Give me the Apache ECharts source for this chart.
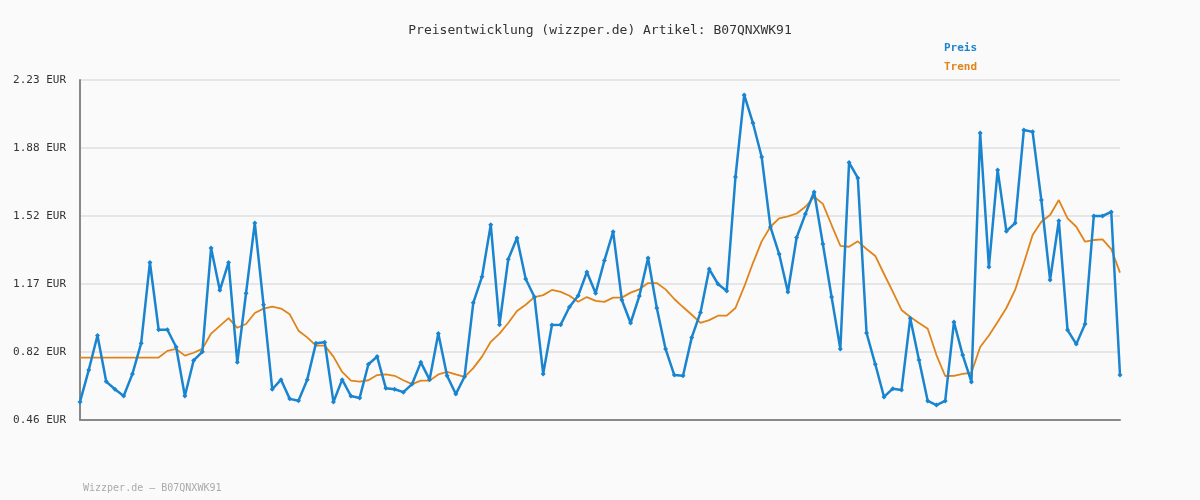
<!DOCTYPE html>
<html><head><meta charset="utf-8">
<script src="https://cdn.jsdelivr.net/npm/echarts@6/dist/echarts.min.js"></script>
<style>html,body{margin:0;padding:0;background:#fafafa}#c{width:1200px;height:500px}</style>
</head><body><div id="c"></div>
<script>
const preis = [0.554,0.72,0.90,0.66,0.62,0.585,0.70,0.86,1.28,0.93,0.93,0.84,0.585,0.77,0.815,1.355,1.135,1.28,0.76,1.12,1.485,1.06,0.62,0.67,0.57,0.56,0.67,0.86,0.865,0.554,0.67,
0.585,0.575,0.75,0.79,0.625,0.62,0.605,0.647,0.76,0.67,0.91,0.69,0.595,0.685,1.07,1.206,1.477,0.956,1.297,1.407,1.194,1.10,0.70,0.955,0.956,1.048,1.107,1.23,1.12,1.29,
1.44,1.085,0.965,1.105,1.303,1.043,0.83,0.694,0.69,0.89,1.02,1.246,1.168,1.132,1.725,2.152,2.006,1.829,1.465,1.324,1.126,1.41,1.532,1.647,1.376,1.10,0.83,1.80,1.72,0.913,
0.75,0.58,0.623,0.616,0.99,0.772,0.559,0.538,0.559,0.97,0.798,0.658,1.954,1.256,1.761,1.443,1.485,1.97,1.96,1.605,1.189,1.497,0.928,0.855,0.96,1.522,1.522,1.543,0.694];
const trend = [0.785,0.785,0.785,0.785,0.785,0.785,0.785,0.785,0.785,0.785,
0.82,0.83,0.795,0.81,0.83,0.91,0.95,0.99,0.94,0.96,1.017,1.04,1.05,1.04,1.01,0.925,0.89,0.847,0.847,0.79,0.71,
0.665,0.66,0.667,0.694,0.697,0.69,0.667,0.647,0.665,0.665,0.697,0.71,0.697,0.685,0.73,0.79,0.867,0.91,0.965,1.027,1.06,1.10,1.11,1.137,1.127,1.107,1.076,1.10,1.08,1.075,
1.097,1.097,1.123,1.14,1.173,1.173,1.14,1.09,1.048,1.008,0.966,0.98,1.003,1.003,1.043,1.154,1.277,1.39,1.466,1.51,1.52,1.535,1.57,1.622,1.585,1.475,1.367,1.362,1.39,1.35,
1.314,1.22,1.128,1.033,0.996,0.965,0.935,0.798,0.689,0.69,0.70,0.706,0.84,0.90,0.97,1.043,1.137,1.277,1.423,1.492,1.527,1.605,1.51,1.466,1.388,1.397,1.40,1.35,1.227];
const yLabels = ["0.46 EUR","0.82 EUR","1.17 EUR","1.52 EUR","1.88 EUR","2.23 EUR"];
const cats = preis.map((_, i) => String(i + 1));
const mono = "DejaVu Sans Mono";
const chart = echarts.init(document.getElementById('c'));
chart.setOption({
  backgroundColor: '#fafafa',
  animation: false,
  title: [{text: 'Preisentwicklung (wizzper.de) Artikel: B07QNXWK91', left: 'center', top: 19,
    textStyle: {fontFamily: mono, fontSize: 13, fontWeight: 'normal', color: '#333'}},
    {text: 'Wizzper.de – B07QNXWK91', left: 78, top: 478,
    textStyle: {fontFamily: mono, fontSize: 10, fontWeight: 'normal', color: '#aaa'}}],
  legend: {left: 934, top: 36, orient: 'vertical', itemGap: 7, icon: 'none', itemWidth: 0,
    textStyle: {fontFamily: mono, fontSize: 11, fontWeight: 'bold', color: 'inherit'},
    data: ['Preis', 'Trend']},
  grid: {left: 80, right: 80, top: 80, bottom: 80},
  xAxis: {type: 'category', data: cats, boundaryGap: false,
    axisLine: {lineStyle: {color: '#888', width: 2}}, axisTick: {show: false}, axisLabel: {show: false}},
  yAxis: {type: 'value', min: 0.46, max: 2.23, interval: 0.354,
    axisLine: {show: true, lineStyle: {color: '#888', width: 2}}, axisTick: {show: false},
    splitLine: {lineStyle: {color: '#e6e6e6', width: 2}},
    axisLabel: {fontFamily: mono, fontSize: 11, color: '#333', margin: 14,
      formatter: v => yLabels[Math.round((v - 0.46) / 0.354)]}},
  series: [
    {name: 'Preis', type: 'line', data: preis, color: '#1a84cf', symbol: 'diamond', symbolSize: 5,
      lineStyle: {width: 2.5}},
    {name: 'Trend', type: 'line', data: trend, color: '#e0841a', symbol: 'none', lineStyle: {width: 1.8}, z: 1}
  ]
});
</script></body></html>
